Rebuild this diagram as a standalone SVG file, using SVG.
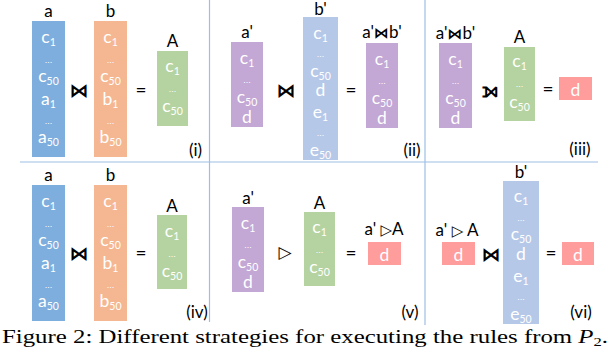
<svg xmlns="http://www.w3.org/2000/svg" width="616" height="350" viewBox="0 0 616 350">
<style>
.bg{fill:#ffffff}
.sep{stroke:#9dbfe6;stroke-width:1.2;fill:none}
.cb{fill:#7eaedd}.co{fill:#f5b791}.cg{fill:#b5d3a0}.cp{fill:#c3a7d5}.cl{fill:#b6c8e8}.cr{fill:#ff9c9c}
.t{font-family:Lato,"Open Sans","Liberation Sans",sans-serif;font-size:17.5px;fill:#ffffff;text-anchor:middle}
.s{font-size:10.5px}
.dots{font-family:"Liberation Sans",sans-serif;font-size:9px;fill:#ffffff;text-anchor:middle}
.lb{font-family:Lato,"Open Sans","Liberation Sans",sans-serif;font-size:17px;fill:#000000;text-anchor:middle}
.op{font-family:"DejaVu Sans",sans-serif;font-size:19px;font-weight:bold;fill:#000000;text-anchor:middle}
.opl{font-family:"DejaVu Sans",sans-serif;font-size:15px;font-weight:bold}
.eq{font-family:Lato,"Liberation Sans",sans-serif;font-size:19px;fill:#000000;text-anchor:middle}
.cap{font-family:"Liberation Serif","DejaVu Serif",serif;font-size:19.5px;fill:#000000}
</style>
<rect class="bg" x="0" y="0" width="616" height="350"/>
<g id="separators">
<line class="sep" x1="20" y1="162" x2="598" y2="162"/>
<line class="sep" x1="209.5" y1="0" x2="209.5" y2="322"/>
<line class="sep" x1="425" y1="0" x2="425" y2="325"/>
</g>

<!-- Panel i -->
<g id="i-a">
<text class="lb" x="48.5" y="17">a</text>
<rect class="cb" x="32" y="21" width="33" height="136"/>
<text class="t" x="48.5" y="43">c<tspan class="s" dy="3">1</tspan></text>
<text class="dots" x="48.5" y="63">...</text>
<text class="t" x="48.5" y="82">c<tspan class="s" dy="3">50</tspan></text>
<text class="t" x="48.5" y="105">a<tspan class="s" dy="3">1</tspan></text>
<text class="dots" x="48.5" y="124">...</text>
<text class="t" x="48.5" y="143">a<tspan class="s" dy="3">50</tspan></text>
</g>
<g id="i-b">
<text class="lb" x="110.5" y="17">b</text>
<rect class="co" x="94" y="21" width="33" height="136"/>
<text class="t" x="110.5" y="43">c<tspan class="s" dy="3">1</tspan></text>
<text class="dots" x="110.5" y="63">...</text>
<text class="t" x="110.5" y="82">c<tspan class="s" dy="3">50</tspan></text>
<text class="t" x="110.5" y="105">b<tspan class="s" dy="3">1</tspan></text>
<text class="dots" x="110.5" y="124">...</text>
<text class="t" x="110.5" y="143">b<tspan class="s" dy="3">50</tspan></text>
</g>
<g id="i-A">
<text class="lb" x="172.5" y="47">A</text>
<rect class="cg" x="157" y="51" width="31" height="75"/>
<text class="t" x="172.5" y="72">c<tspan class="s" dy="3">1</tspan></text>
<text class="dots" x="172.5" y="92">...</text>
<text class="t" x="172.5" y="112">c<tspan class="s" dy="3">50</tspan></text>
</g>
<g id="i-ops">
<text class="op" x="79" y="97">⋈</text>
<text class="eq" x="141" y="97">=</text>
<text class="lb" x="195.5" y="156">(i)</text>
</g>

<!-- Panel ii -->
<g id="ii-a1">
<text class="lb" x="247" y="38">a'</text>
<rect class="cp" x="231" y="42" width="32" height="85"/>
<text class="t" x="247" y="64">c<tspan class="s" dy="3">1</tspan></text>
<text class="dots" x="247" y="83">...</text>
<text class="t" x="247" y="103">c<tspan class="s" dy="3">50</tspan></text>
<text class="t" x="247" y="123">d</text>
</g>
<g id="ii-b1">
<text class="lb" x="320.5" y="15">b'</text>
<rect class="cl" x="303" y="17" width="35" height="143"/>
<text class="t" x="320.5" y="39">c<tspan class="s" dy="3">1</tspan></text>
<text class="dots" x="320.5" y="57">...</text>
<text class="t" x="320.5" y="77">c<tspan class="s" dy="3">50</tspan></text>
<text class="t" x="320.5" y="96">d</text>
<text class="t" x="320.5" y="118">e<tspan class="s" dy="3">1</tspan></text>
<text class="dots" x="320.5" y="136">...</text>
<text class="t" x="320.5" y="156">e<tspan class="s" dy="3">50</tspan></text>
</g>
<g id="ii-ab">
<text class="lb" x="382" y="38">a'<tspan class="opl">⋈</tspan>b'</text>
<rect class="cp" x="366" y="43" width="32" height="85"/>
<text class="t" x="382" y="65">c<tspan class="s" dy="3">1</tspan></text>
<text class="dots" x="382" y="84">...</text>
<text class="t" x="382" y="104">c<tspan class="s" dy="3">50</tspan></text>
<text class="t" x="382" y="124">d</text>
</g>
<g id="ii-ops">
<text class="op" x="286" y="97">⋈</text>
<text class="eq" x="351" y="97">=</text>
<text class="lb" x="412" y="156">(ii)</text>
</g>

<!-- Panel iii -->
<g id="iii-ab">
<text class="lb" x="455.5" y="39">a'<tspan class="opl">⋈</tspan>b'</text>
<rect class="cp" x="439" y="43" width="33" height="85"/>
<text class="t" x="455.5" y="65">c<tspan class="s" dy="3">1</tspan></text>
<text class="dots" x="455.5" y="84">...</text>
<text class="t" x="455.5" y="104">c<tspan class="s" dy="3">50</tspan></text>
<text class="t" x="455.5" y="124">d</text>
</g>
<g id="iii-A">
<text class="lb" x="519.5" y="43">A</text>
<rect class="cg" x="504" y="47" width="31" height="74"/>
<text class="t" x="519.5" y="67">c<tspan class="s" dy="3">1</tspan></text>
<text class="dots" x="519.5" y="87">...</text>
<text class="t" x="519.5" y="108">c<tspan class="s" dy="3">50</tspan></text>
</g>
<g id="iii-d">
<rect class="cr" x="559" y="77" width="33" height="23"/>
<text class="t" x="575.5" y="96">d</text>
</g>
<g id="iii-ops">
<text class="op" x="490" y="97" style="font-size:21px">⟕</text>
<text class="eq" x="548" y="96">=</text>
<text class="lb" x="580" y="155">(iii)</text>
</g>

<!-- Panel iv -->
<g id="iv-a">
<text class="lb" x="48.5" y="181">a</text>
<rect class="cb" x="32" y="185" width="33" height="136"/>
<text class="t" x="48.5" y="207">c<tspan class="s" dy="3">1</tspan></text>
<text class="dots" x="48.5" y="227">...</text>
<text class="t" x="48.5" y="246">c<tspan class="s" dy="3">50</tspan></text>
<text class="t" x="48.5" y="269">a<tspan class="s" dy="3">1</tspan></text>
<text class="dots" x="48.5" y="288">...</text>
<text class="t" x="48.5" y="307">a<tspan class="s" dy="3">50</tspan></text>
</g>
<g id="iv-b">
<text class="lb" x="110.5" y="181">b</text>
<rect class="co" x="94" y="185" width="33" height="136"/>
<text class="t" x="110.5" y="207">c<tspan class="s" dy="3">1</tspan></text>
<text class="dots" x="110.5" y="227">...</text>
<text class="t" x="110.5" y="246">c<tspan class="s" dy="3">50</tspan></text>
<text class="t" x="110.5" y="269">b<tspan class="s" dy="3">1</tspan></text>
<text class="dots" x="110.5" y="288">...</text>
<text class="t" x="110.5" y="307">b<tspan class="s" dy="3">50</tspan></text>
</g>
<g id="iv-A">
<text class="lb" x="172" y="212">A</text>
<rect class="cg" x="157" y="215" width="30" height="74"/>
<text class="t" x="172" y="237">c<tspan class="s" dy="3">1</tspan></text>
<text class="dots" x="172" y="257">...</text>
<text class="t" x="172" y="277">c<tspan class="s" dy="3">50</tspan></text>
</g>
<g id="iv-ops">
<text class="op" x="79" y="260">⋈</text>
<text class="eq" x="141" y="260">=</text>
<text class="lb" x="197" y="318">(iv)</text>
</g>

<!-- Panel v -->
<g id="v-a1">
<text class="lb" x="248" y="204">a'</text>
<rect class="cp" x="232" y="207" width="32" height="85"/>
<text class="t" x="248" y="229">c<tspan class="s" dy="3">1</tspan></text>
<text class="dots" x="248" y="248">...</text>
<text class="t" x="248" y="268">c<tspan class="s" dy="3">50</tspan></text>
<text class="t" x="248" y="288">d</text>
</g>
<g id="v-A">
<text class="lb" x="319.5" y="209">A</text>
<rect class="cg" x="304" y="212" width="31" height="74"/>
<text class="t" x="319.5" y="233">c<tspan class="s" dy="3">1</tspan></text>
<text class="dots" x="319.5" y="253">...</text>
<text class="t" x="319.5" y="273">c<tspan class="s" dy="3">50</tspan></text>
</g>
<g id="v-d">
<text class="lb" x="384" y="235">a' <tspan class="opl">▷</tspan>A</text>
<rect class="cr" x="368" y="242" width="33" height="23"/>
<text class="t" x="384.5" y="261">d</text>
</g>
<g id="v-ops">
<text class="op" x="285" y="258" style="font-size:17px">▷</text>
<text class="eq" x="351" y="260">=</text>
<text class="lb" x="410" y="318">(v)</text>
</g>

<!-- Panel vi -->
<g id="vi-d1">
<text class="lb" x="457" y="236">a' <tspan class="opl">▷</tspan> A</text>
<rect class="cr" x="442" y="242" width="33" height="23"/>
<text class="t" x="458.5" y="261">d</text>
</g>
<g id="vi-b1">
<text class="lb" x="521" y="178">b'</text>
<rect class="cl" x="503" y="181" width="36" height="143"/>
<text class="t" x="521" y="202">c<tspan class="s" dy="3">1</tspan></text>
<text class="dots" x="521" y="221">...</text>
<text class="t" x="521" y="240">c<tspan class="s" dy="3">50</tspan></text>
<text class="t" x="521" y="260">d</text>
<text class="t" x="521" y="282">e<tspan class="s" dy="3">1</tspan></text>
<text class="dots" x="521" y="300">...</text>
<text class="t" x="521" y="320">e<tspan class="s" dy="3">50</tspan></text>
</g>
<g id="vi-d2">
<rect class="cr" x="562" y="242" width="32" height="23"/>
<text class="t" x="578" y="261">d</text>
</g>
<g id="vi-ops">
<text class="op" x="491" y="261">⋈</text>
<text class="eq" x="551" y="260">=</text>
<text class="lb" x="581" y="318">(vi)</text>
</g>

<text class="cap" x="2" y="343" textLength="606" lengthAdjust="spacingAndGlyphs">Figure 2: Different strategies for executing the rules from <tspan font-style="italic">P</tspan><tspan font-size="13px" dy="3">2</tspan><tspan dy="-3">.</tspan></text>
</svg>
